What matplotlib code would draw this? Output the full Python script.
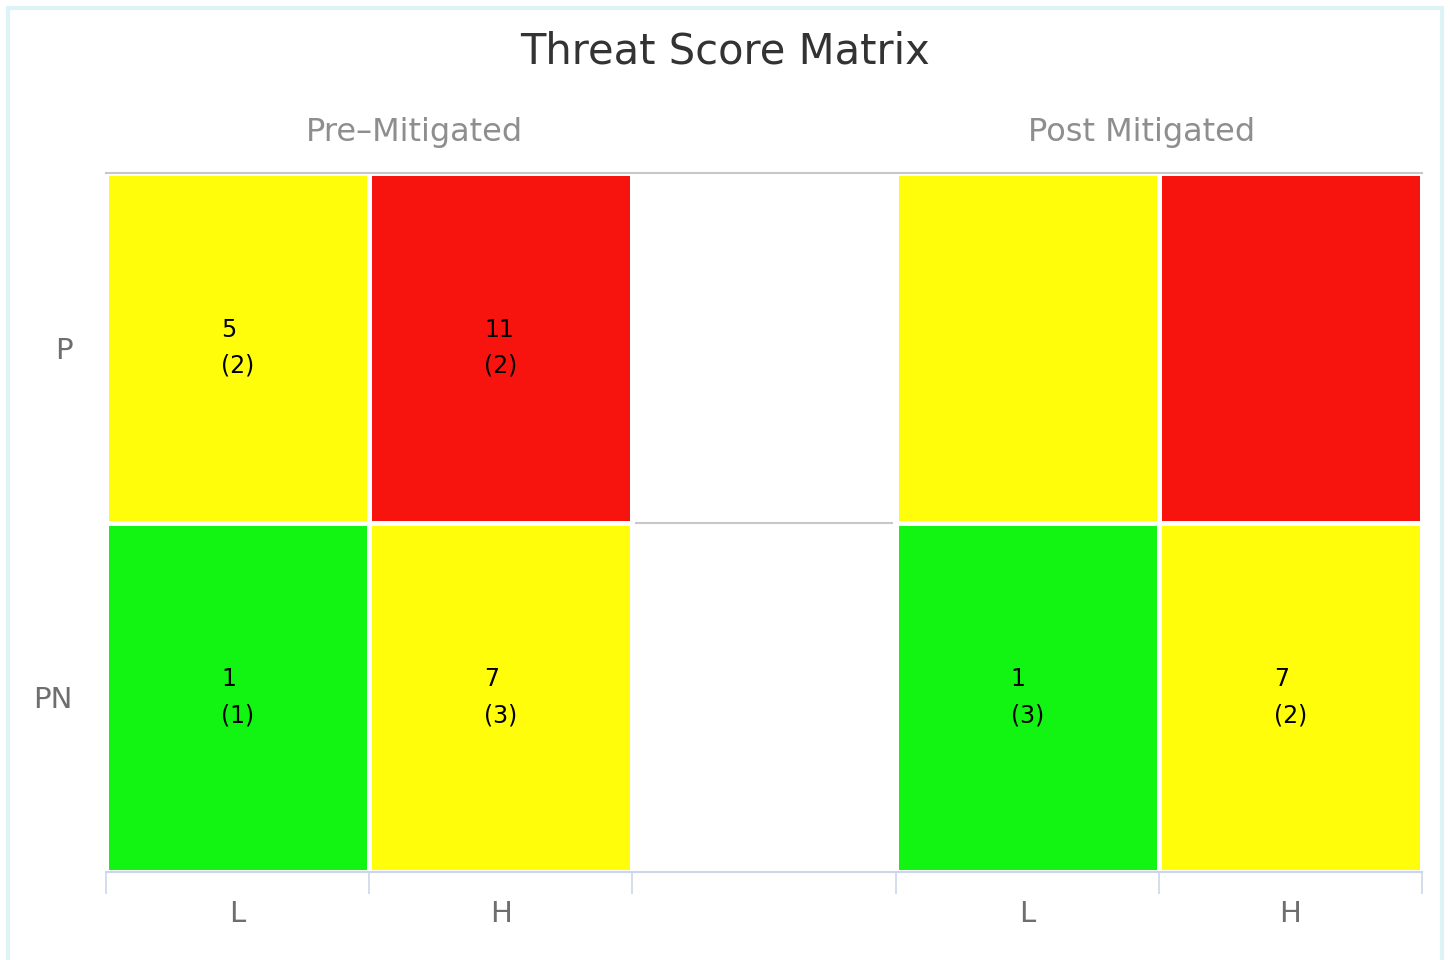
import numpy as np
import matplotlib
matplotlib.use("Agg")
import matplotlib.pyplot as plt
from matplotlib.colors import ListedColormap
from matplotlib.patches import Rectangle

# ---- data ----
title = "Threat Score Matrix"
groups = ["Pre\u2013Mitigated", "Post Mitigated"]
x_labels = ["L", "H", "", "L", "H"]
y_labels = ["P", "PN"]
# risk level per cell: 0 = low (green), 1 = medium (yellow), 2 = high (red), None = empty
levels_P = [1, 2, None, 1, 2]
levels_PN = [0, 1, None, 0, 1]
scores_P = [5, 11, None, None, None]
scores_PN = [1, 7, None, 1, 7]
counts_P = [2, 2, None, None, None]
counts_PN = [1, 3, None, 3, 2]
level_colors = ["#12F512", "#FFFD0A", "#F7140E"]

W, H = 1450, 960
plt.rcParams['font.family'] = ['DejaVu Sans']
fig = plt.figure(figsize=(W / 100, H / 100), dpi=100)

# outer border
fig.patches.append(Rectangle((8 / W, -0.05), (1442 - 8) / W, 1 - 8 / H + 0.05,
                             transform=fig.transFigure, fill=False,
                             edgecolor="#DDF3F6", linewidth=3, zorder=0))

x0, x1, y0, y1 = 106, 1422, 173, 872
ax = fig.add_axes([x0 / W, 1 - y1 / H, (x1 - x0) / W, (y1 - y0) / H])

levels = np.array([[np.nan if v is None else v for v in levels_P],
                   [np.nan if v is None else v for v in levels_PN]], dtype=float)
ncols = len(x_labels)
nrows = len(y_labels)
cmap = ListedColormap(level_colors)
ax.pcolormesh(np.arange(ncols + 1), np.arange(nrows + 1), np.ma.masked_invalid(levels),
              cmap=cmap, vmin=-0.5, vmax=2.5, edgecolors="white", linewidth=2.2, zorder=2)
ax.set_xlim(0, ncols)
ax.set_ylim(nrows, 0)

# gridlines (visible only where no cells are drawn)
empty_cols = [c for c in range(ncols) if np.all(np.isnan(levels[:, c]))]
for c in empty_cols:
    for yv in range(1, nrows):
        ax.hlines(yv, c + 0.01, c + 0.99, color="#C8C8C8", linewidth=1.5, zorder=3)
ax.axhline(0, color="#C8C8C8", linewidth=1.5, zorder=3, clip_on=False)

for s in ax.spines.values():
    s.set_visible(False)
ax.spines['bottom'].set_visible(True)
ax.spines['bottom'].set_color("#CCD6EB")
ax.spines['bottom'].set_linewidth(1.5)
ax.spines['bottom'].set_zorder(4)

ax.set_xticks(np.arange(ncols + 1))
ax.set_xticklabels([])
ax.tick_params(axis='x', length=16, width=1.2, color="#CCD6EB")
ax.set_xticks(np.arange(ncols) + 0.5, minor=True)
ax.set_xticklabels(x_labels, minor=True)
ax.tick_params(axis='x', which='minor', length=0, pad=20, labelsize=21, labelcolor="#6E6E6E")
ax.set_yticks(np.arange(nrows) + 0.5)
ax.set_yticklabels(y_labels)
ax.tick_params(axis='y', length=0, pad=24, labelsize=21, labelcolor="#6E6E6E")

# cell labels
for r, (sc_row, ct_row) in enumerate([(scores_P, counts_P), (scores_PN, counts_PN)]):
    for c in range(ncols):
        if sc_row[c] is not None:
            ax.text(c + 0.5, r + 0.5, f"{sc_row[c]}\n({ct_row[c]})", ha="center", va="center",
                    multialignment="left", fontsize=17, color="black",
                    linespacing=1.65, zorder=5)

# title and group headers
fig.text(725 / W, 1 - 51 / H, title, ha="center", va="center", fontsize=30, color="#333333")
fig.text(414 / W, 1 - 133 / H, groups[0], ha="center", va="center", fontsize=23, color="#8E8E8E")
fig.text(1142 / W, 1 - 133 / H, groups[1], ha="center", va="center", fontsize=23, color="#8E8E8E")

fig.savefig("out.png", dpi=100, facecolor="white")
